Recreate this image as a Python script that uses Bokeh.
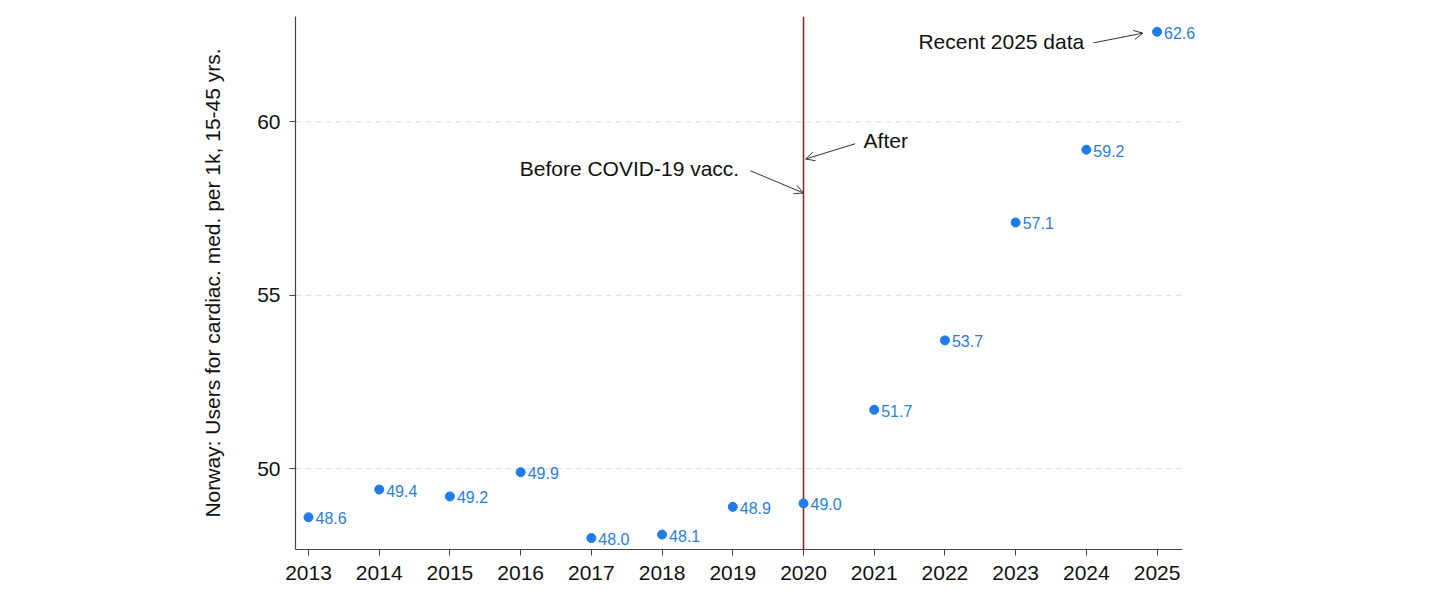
from bokeh.plotting import figure
from bokeh.models import ColumnDataSource, Range1d, FixedTicker, Span, Arrow, OpenHead, Label, LabelSet
from bokeh.embed import file_html
from bokeh.resources import INLINE
from bokeh.core.properties import value

years = [2013, 2014, 2015, 2016, 2017, 2018, 2019, 2020, 2021, 2022, 2023, 2024, 2025]
users = [48.6, 49.4, 49.2, 49.9, 48.0, 48.1, 48.9, 49.0, 51.7, 53.7, 57.1, 59.2, 62.6]
labels = [f"{v:.1f}" for v in users]
y_ticks = [50, 55, 60]
vacc_year = 2020

FONT = "Liberation Sans"
BLUE = "#1f7be6"
LBLUE = "#2b80d8"

X_LO, X_AXIS_HI, X_FRAME_HI = 2012.816, 2025.353, 2025.6

src = ColumnDataSource(dict(x=years, y=users, label=labels))

p = figure(width=1456, height=590, output_backend="svg", toolbar_location=None,
           x_range=Range1d(X_LO, X_FRAME_HI), y_range=Range1d(47.67, 63.04),
           min_border_left=295, min_border_right=257, min_border_top=16, min_border_bottom=41)
p.outline_line_color = None
p.background_fill_color = "white"
p.border_fill_color = "white"

p.xgrid.grid_line_color = None
p.ygrid.grid_line_color = None
# horizontal dashed gridlines that stop where the x axis ends
p.segment(x0=[X_LO] * len(y_ticks), x1=[X_AXIS_HI] * len(y_ticks), y0=y_ticks, y1=y_ticks,
          line_color="#dddddd", line_dash="6 4", line_width=1)

p.xaxis.ticker = FixedTicker(ticks=years)
p.yaxis.ticker = FixedTicker(ticks=y_ticks)
p.xaxis.bounds = (X_LO, X_AXIS_HI)
for ax in (p.xaxis, p.yaxis):
    ax.axis_line_color = "#444444"
    ax.axis_line_width = 1.2
    ax.major_tick_line_color = "#444444"
    ax.major_tick_out = 6
    ax.major_tick_in = 0
    ax.minor_tick_line_color = None
    ax.major_label_text_font = FONT
    ax.major_label_text_font_size = "21px"
    ax.major_label_text_color = "#111111"
p.xaxis.major_label_standoff = 10
p.yaxis.major_label_standoff = 9
p.yaxis.axis_label = "Norway: Users for cardiac. med. per 1k, 15-45 yrs."
p.yaxis.axis_label_text_font = FONT
p.yaxis.axis_label_text_font_size = "21px"
p.yaxis.axis_label_text_font_style = "normal"
p.yaxis.axis_label_text_color = "#111111"
p.yaxis.axis_label_standoff = 30

p.add_layout(Span(location=vacc_year, dimension="height", line_color="#8e2a2a",
                  line_width=1.6, level="underlay"))

p.scatter("x", "y", source=src, size=9, color=BLUE, line_color=BLUE)
p.add_layout(LabelSet(x="x", y="y", text="label", source=src, x_offset=7, y_offset=-1,
                      text_font=value(FONT), text_font_size=value("16px"), text_color=LBLUE,
                      text_baseline="middle", text_align="left"))

def arrow(x0, y0, x1, y1):
    p.add_layout(Arrow(end=OpenHead(size=9, line_color="#333333", line_width=1),
                       x_start=x0, y_start=y0, x_end=x1, y_end=y1,
                       line_color="#333333", line_width=1))

arrow(2019.25, 58.59, 2020.0, 57.95)
arrow(2020.73, 59.37, 2020.03, 58.93)
arrow(2024.1, 62.28, 2024.8, 62.56)

def label(x, y, t, align):
    p.add_layout(Label(x=x, y=y, text=t, text_font=FONT, text_font_size="21px",
                       text_color="#111111", text_align=align, text_baseline="middle"))

label(2019.09, 58.65, "Before COVID-19 vacc.", "right")
label(2020.85, 59.45, "After", "left")
label(2023.97, 62.33, "Recent 2025 data", "right")

open("out.html", "w").write(file_html(p, INLINE))
